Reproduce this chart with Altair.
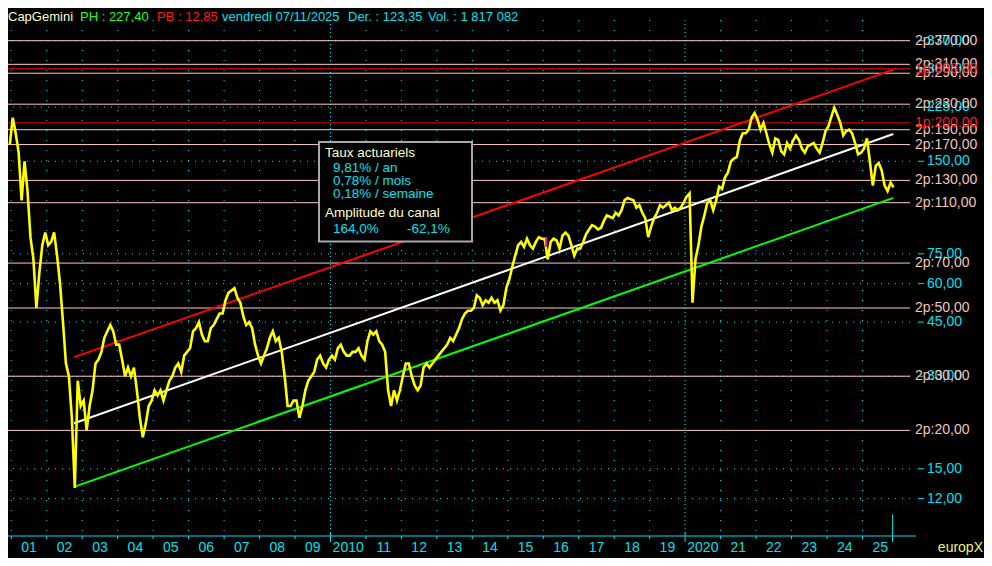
import altair as alt
import pandas as pd

CYAN = "#00e0f0"
PINK = "#ffc8c8"
PINK_TXT = "#f2c4b8"
RED = "#ff1a1a"
RED_LINE = "#e00000"
YELLOW = "#ffff00"
CREAM = "#ffffc8"
FONT = "Liberation Sans"

# ---- monthly prices (Dec 2000 .. Nov 2025) ----
first_month = 2000 + 11.5 / 12
closes_2000s = [
    170,
    208, 185, 160, 112, 150, 120, 85, 72, 50, 65, 80, 88,       # 2001
    80, 82, 88, 74, 60, 45, 33, 30, 22, 13, 29, 24,             # 2002
    25, 20, 24, 27, 33, 34, 36, 40, 42, 44, 42, 38,             # 2003
    38, 34, 30, 32, 30, 32, 27, 22, 19, 21, 24, 25,             # 2004
    27, 26, 27, 25, 27, 29, 30, 32, 33, 31, 35, 36,             # 2005
    37, 42, 43, 45, 41, 39, 39, 43, 44, 46, 48, 48,             # 2006
    53, 56, 57, 58, 54, 52, 47, 44, 45, 43, 38, 35,             # 2007
    33, 35, 37, 40, 42, 39, 40, 36, 30, 24, 24, 25,             # 2008
    25, 22, 24, 27, 29, 30, 31, 34, 35, 33, 32, 34,             # 2009
]
closes_2010s = [
    35, 34, 37, 38, 36, 35, 35, 36, 36, 37, 35, 34,             # 2010
    39, 42, 41, 42, 39, 38, 36, 27, 24, 27, 25, 27,             # 2011
    30, 33, 33, 30, 28, 27, 28, 32, 33, 32, 33, 34,             # 2012
    35, 36, 37, 38, 40, 39, 41, 43, 46, 48, 49, 49,             # 2013
    50, 55, 54, 51, 53, 52, 54, 52, 53, 49, 51, 58,             # 2014
    62, 68, 74, 80, 82, 79, 84, 80, 78, 82, 85, 84,             # 2015
    84, 72, 82, 84, 83, 78, 86, 88, 86, 80, 74, 78,             # 2016
    78, 82, 87, 90, 93, 92, 90, 91, 96, 100, 99, 98,            # 2017
    102, 100, 104, 112, 114, 113, 112, 106, 108, 102, 98, 85,   # 2018
    92, 98, 102, 108, 106, 108, 110, 104, 106, 104, 106, 110,   # 2019
]
closes_2020s = [
    115, 118, 52, 72, 80, 92, 100, 110, 112, 104, 112, 124,     # 2020
    122, 133, 138, 150, 153, 155, 175, 185, 185, 190, 208, 215, # 2021
    205, 190, 200, 185, 170, 160, 178, 176, 162, 158, 172, 165, # 2022
    175, 182, 176, 165, 160, 168, 170, 172, 165, 160, 172, 188, # 2023
    195, 210, 224, 212, 200, 182, 188, 190, 185, 172, 158, 160, # 2024
    165, 178, 150, 125, 145, 148, 140, 125, 120, 128, 123.35,   # 2025
]
closes = closes_2000s + closes_2010s + closes_2020s
price = pd.DataFrame({"t": [first_month + i / 12 for i in range(len(closes))], "v": closes})

# ---- regression channel ----
channel_t = [2002.77, 2025.87]
channel_upper = [34.6, 298.0]
channel_mid = [21.1, 184.0]
channel_lower = [13.1, 114.0]

# ---- horizontal levels ----
levels_2p = [370, 310, 290, 230, 190, 170, 130, 110, 70, 50, 30, 20]
levels_1p = [300, 200]
grid_levels = [370, 300, 225, 150, 75, 60, 45, 30, 15, 12]

all_years = list(range(2001, 2026))
year_ticks = [y for y in all_years if y not in (2010, 2020)]
decade_ticks = [2010, 2020]
year_labels = ["01", "02", "03", "04", "05", "06", "07", "08", "09", "2010",
               "11", "12", "13", "14", "15", "16", "17", "18", "19", "2020",
               "21", "22", "23", "24", "25"]
last_date = 2025.85

header_texts = ["CapGemini", "PH : 227,40", "PB : 12,85", "vendredi 07/11/2025",
                "Der. : 123,35", "Vol. : 1 817 082"]
header_colors = [CREAM, "#20ff20", RED, CYAN, CYAN, CYAN]
header_x = [0, 72, 149, 214, 340, 420]

W, H = 902, 516
xs = alt.Scale(domain=[2000.908, 2026.34], nice=False, zero=False)
ys = alt.Scale(type="log", domain=[9.07, 432], nice=False)

def ry(ref_y):
    return (ref_y - 20) * H / 524.0

layers = []

# vertical dotted grid
layers.append(alt.Chart(pd.DataFrame({"yr": year_ticks})).mark_rule(
    color=CYAN, strokeDash=[1, 9], strokeWidth=1).encode(
    x=alt.X("yr:Q", scale=xs, axis=None)))
layers.append(alt.Chart(pd.DataFrame({"yr": decade_ticks})).mark_rule(
    color=CYAN, strokeDash=[1, 3], strokeWidth=1).encode(
    x=alt.X("yr:Q", scale=xs, axis=None)))
# horizontal dotted grid
layers.append(alt.Chart(pd.DataFrame({"level": grid_levels})).mark_rule(
    color=CYAN, strokeDash=[1, 6], strokeWidth=1).encode(
    y=alt.Y("level:Q", scale=ys, axis=None)))

# cyan scale labels
grid_df = pd.DataFrame({"level": grid_levels,
                        "label": [f"{v},00" for v in grid_levels]})
layers.append(alt.Chart(grid_df).mark_rule(color=CYAN, strokeWidth=1).encode(
    y=alt.Y("level:Q", scale=ys, axis=None), x=alt.value(910), x2=alt.value(916)))
layers.append(alt.Chart(grid_df).mark_text(
    align="left", baseline="middle", font=FONT, fontSize=14, color=CYAN).encode(
    y=alt.Y("level:Q", scale=ys, axis=None), x=alt.value(919), text="label:N"))

# pink level lines
pink_df = pd.DataFrame({"level": levels_2p, "label": [f"2p:{v},00" for v in levels_2p]})
layers.append(alt.Chart(pink_df).mark_rule(color=PINK, strokeWidth=1).encode(
    y=alt.Y("level:Q", scale=ys, axis=None)))
layers.append(alt.Chart(pink_df).mark_text(
    align="left", baseline="middle", font=FONT, fontSize=14, color=PINK_TXT).encode(
    y=alt.Y("level:Q", scale=ys, axis=None), x=alt.value(907), text="label:N"))
red_df = pd.DataFrame({"level": levels_1p, "label": [f"1p:{v},00" for v in levels_1p]})
layers.append(alt.Chart(red_df).mark_rule(color=RED_LINE, strokeWidth=1).encode(
    y=alt.Y("level:Q", scale=ys, axis=None)))
layers.append(alt.Chart(red_df).mark_text(
    align="left", baseline="middle", font=FONT, fontSize=14, color=RED).encode(
    y=alt.Y("level:Q", scale=ys, axis=None), x=alt.value(907), text="label:N"))

# channel lines
for vals, col in [(channel_upper, "#ff0000"), (channel_mid, "#ffffff"), (channel_lower, "#00ff00")]:
    df = pd.DataFrame({"t": channel_t, "c": vals})
    layers.append(alt.Chart(df).mark_line(color=col, strokeWidth=2).encode(
        x=alt.X("t:Q", scale=xs, axis=None), y=alt.Y("c:Q", scale=ys, axis=None)))

# price line
layers.append(alt.Chart(price).mark_line(color=YELLOW, strokeWidth=2.6, strokeJoin="miter").encode(
    x=alt.X("t:Q", scale=xs, axis=None),
    y=alt.Y("v:Q", scale=ys, axis=None)))

# magenta marker
layers.append(alt.Chart(pd.DataFrame({"t": [2016.08], "a": [79], "b": [85]})).mark_rule(
    color="#ff00ff", strokeWidth=2).encode(
    x=alt.X("t:Q", scale=xs, axis=None), y=alt.Y("a:Q", scale=ys, axis=None), y2="b:Q"))

# x axis: line, year ticks, long decade ticks, last-date marker
layers.append(alt.Chart(pd.DataFrame({"a": [1]})).mark_rule(color=CYAN, strokeWidth=1).encode(
    x=alt.value(0), x2=alt.value(W + 6), y=alt.value(H)))
layers.append(alt.Chart(pd.DataFrame({"yr": year_ticks})).mark_rule(
    color=CYAN, strokeWidth=1).encode(
    x=alt.X("yr:Q", scale=xs, axis=None), y=alt.value(H), y2=alt.value(H + 3)))
layers.append(alt.Chart(pd.DataFrame({"yr": decade_ticks})).mark_rule(
    color=CYAN, strokeWidth=1).encode(
    x=alt.X("yr:Q", scale=xs, axis=None), y=alt.value(H - 4), y2=alt.value(H + 6)))
layers.append(alt.Chart(pd.DataFrame({"yr": [last_date]})).mark_rule(
    color=CYAN, strokeWidth=1).encode(
    x=alt.X("yr:Q", scale=xs, axis=None), y=alt.value(ry(522)), y2=alt.value(H + 6)))

# year labels
lab_df = pd.DataFrame({"mid": [y + 0.5 for y in all_years], "label": year_labels})
layers.append(alt.Chart(lab_df).mark_text(
    baseline="middle", font=FONT, fontSize=14, color=CYAN).encode(
    x=alt.X("mid:Q", scale=xs, axis=None), y=alt.value(ry(556)), text="label:N"))
layers.append(alt.Chart(pd.DataFrame({"a": [1]})).mark_text(
    align="right", baseline="middle", font=FONT, fontSize=14, color="#f0f070", text="europX").encode(
    x=alt.value(975), y=alt.value(ry(556))))

# header
for txt, col, hx in zip(header_texts, header_colors, header_x):
    layers.append(alt.Chart(pd.DataFrame({"a": [1]})).mark_text(
        align="left", baseline="middle", font=FONT, fontSize=13, color=col, text=txt).encode(
        x=alt.value(hx), y=alt.value(-3)))

# info box
layers.append(alt.Chart(pd.DataFrame({"a": [1]})).mark_rect(
    fill="black", stroke="#a8a8a8", strokeWidth=2).encode(
    x=alt.value(311), x2=alt.value(464), y=alt.value(ry(144)), y2=alt.value(ry(245))))
box_lines = [("Taux actuariels", CREAM, 317, 155),
             ("9,81% / an", CYAN, 325, 170),
             ("0,78% / mois", CYAN, 325, 184),
             ("0,18% / semaine", CYAN, 325, 197),
             ("Amplitude du canal", CREAM, 317, 216),
             ("164,0%", CYAN, 325, 232),
             ("-62,1%", CYAN, 399, 232)]
for txt, col, bx, by in box_lines:
    layers.append(alt.Chart(pd.DataFrame({"a": [1]})).mark_text(
        align="left", baseline="middle", font=FONT, fontSize=13.5, color=col, text=txt).encode(
        x=alt.value(bx), y=alt.value(ry(by))))

chart = alt.layer(*layers).properties(
    width=W, height=H, background="black", autosize="none",
    padding={"left": 0, "top": 12, "right": 74, "bottom": 22},
).configure_view(stroke=None)

chart.save("out.html", embed_options={"renderer": "svg", "actions": False})
